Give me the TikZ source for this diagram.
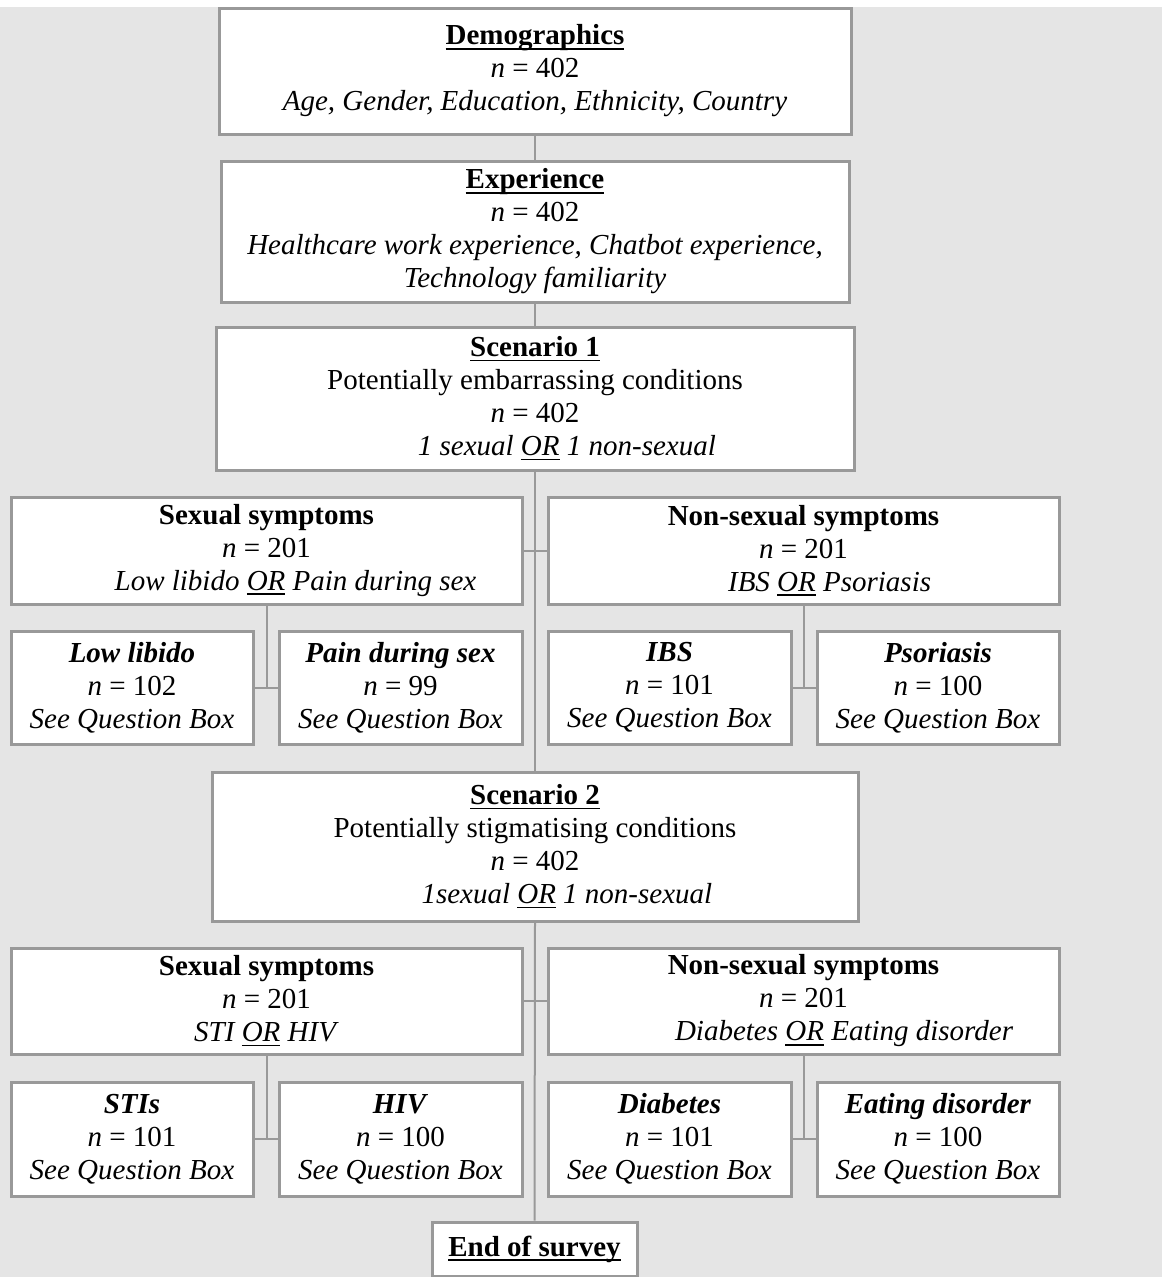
\documentclass[tikz,border=0pt]{standalone}
\usepackage{fontspec}
\setmainfont{Liberation Serif}
\definecolor{boxgray}{HTML}{999999}
\definecolor{bggray}{HTML}{E5E5E5}
\newcommand{\uln}[1]{\setbox0\hbox{#1}\rlap{\vrule height -3pt depth 4.6pt width \wd0}\box0\relax}

\begin{document}
\begin{tikzpicture}[x=1pt,y=-1pt]
		\tikzset{box/.style 2 args={draw=boxgray, line width=3pt, fill=white, align=center, inner sep=0pt,
			minimum width=#1, minimum height=#2, font=\fontsize{29}{33}\selectfont},
			link/.style={draw=boxgray, line width=2pt}}
\useasboundingbox (0,0) rectangle (1162,1277);
\fill[white] (0,0) rectangle (1162,7);
\fill[bggray] (0,7) rectangle (1162,1277);

\node[box={632pt}{126pt}] (demo) at (535,71) {\uln{\textbf{Demographics}}\\ \textit{n} = 402\\ \textit{Age, Gender, Education, Ethnicity, Country}};
\node[box={628pt}{141pt}] (exp) at (535,231.5) {\uln{\textbf{Experience}}\\ \textit{n} = 402\\ \textit{Healthcare work experience, Chatbot experience,}\\ \textit{Technology familiarity}};
\node[box={638pt}{143pt}] (sc1) at (535,398.5) {\uln{\textbf{Scenario 1}}\\ Potentially embarrassing conditions\\ \textit{n} = 402\\ \hspace*{2.2em}\textit{1 sexual \uln{OR} 1 non-sexual}};

\node[box={511pt}{107pt}] (sexa) at (266.5,550.5) {\textbf{Sexual symptoms}\\ \textit{n} = 201\\ \hspace*{2em}\textit{Low libido \uln{OR} Pain during sex}};
\node[box={511pt}{107pt}] (nonsexa) at (803.5,550.5) {\textbf{Non-sexual symptoms}\\ \textit{n} = 201\\ \hspace*{1.8em}\textit{IBS \uln{OR} Psoriasis}};

\node[box={242pt}{113pt}] (lowlib) at (132,687.5) {\textbf{\textit{Low libido}}\\ \textit{n} = 102\\ \textit{See Question Box}};
\node[box={243pt}{113pt}] (pain) at (400.5,687.5) {\textbf{\textit{Pain during sex}}\\ \textit{n} = 99\\ \textit{See Question Box}};
\node[box={243pt}{113pt}] (ibs) at (669.5,687.5) {\textbf{\textit{IBS}}\\ \textit{n} = 101\\ \textit{See Question Box}};
\node[box={242pt}{113pt}] (psor) at (938,687.5) {\textbf{\textit{Psoriasis}}\\ \textit{n} = 100\\ \textit{See Question Box}};

\node[box={646pt}{149pt}] (sc2) at (535,846.5) {\uln{\textbf{Scenario 2}}\\ Potentially stigmatising conditions\\ \textit{n} = 402\\ \hspace*{2.2em}\textit{1sexual \uln{OR} 1 non-sexual}};

\node[box={511pt}{106pt}] (sexb) at (266.5,1001) {\textbf{Sexual symptoms}\\ \textit{n} = 201\\ \textit{STI \uln{OR} HIV}};
\node[box={511pt}{106pt}] (nonsexb) at (803.5,1001) {\textbf{Non-sexual symptoms}\\ \textit{n} = 201\\ \hspace*{2.8em}\textit{Diabetes \uln{OR} Eating disorder}};

\node[box={242pt}{114pt}] (sti) at (132,1139) {\textbf{\textit{STIs}}\\ \textit{n} = 101\\ \textit{See Question Box}};
\node[box={243pt}{114pt}] (hiv) at (400.5,1139) {\textbf{\textit{HIV}}\\ \textit{n} = 100\\ \textit{See Question Box}};
\node[box={243pt}{114pt}] (diab) at (669.5,1139) {\textbf{\textit{Diabetes}}\\ \textit{n} = 101\\ \textit{See Question Box}};
\node[box={242pt}{114pt}] (eat) at (938,1139) {\textbf{\textit{Eating disorder}}\\ \textit{n} = 100\\ \textit{See Question Box}};

\node[box={205pt}{54pt}] (end) at (534.5,1249) {\uln{\textbf{End of survey}}};

% main stem
\foreach \from/\to in {demo/exp,exp/sc1,sc1/sc2,sc2/end}
{
	\draw[link] (\from.south) -- (\to.north);
}
% side links
\foreach \from/\to in {sexa/nonsexa,lowlib/pain,ibs/psor,sexb/nonsexb,sti/hiv,diab/eat}
{
	\draw[link] (\from.east) -- (\to.west);
}
\foreach \from/\to in {sexa/lowlib,nonsexa/ibs,sexb/sti,nonsexb/diab}
{
	\draw[link] (\from.south) -- (\from.south |- \to.east);
}

		\end{tikzpicture}
\end{document}
